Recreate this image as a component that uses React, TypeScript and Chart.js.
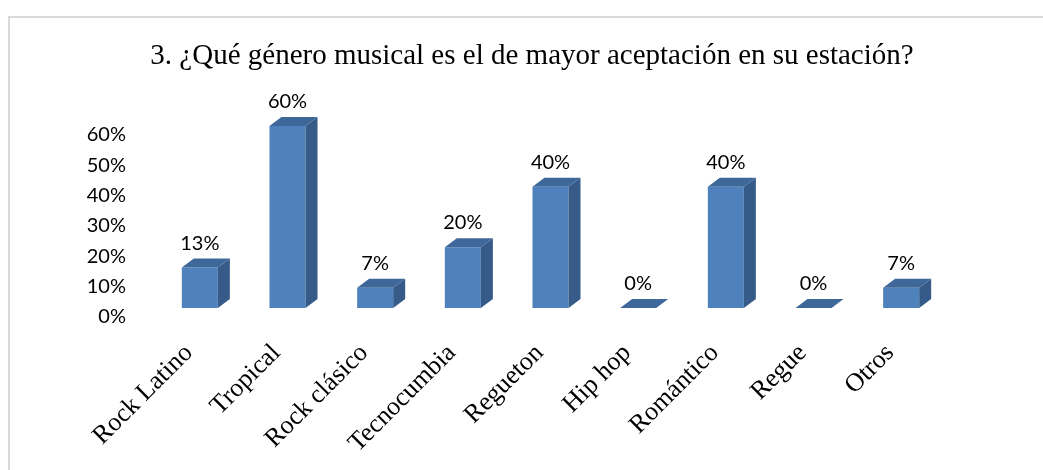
import React, { useEffect, useRef } from "react";
import { Chart, registerables } from "chart.js";

Chart.register(...registerables);

const TITLE = "3. ¿Qué género musical es el de mayor aceptación en su estación?";
const categories = ["Rock Latino", "Tropical", "Rock clásico", "Tecnocumbia", "Regueton", "Hip hop", "Romántico", "Regue", "Otros"];
const values = [0.1333, 0.6, 0.0667, 0.2, 0.4, 0, 0.4, 0, 0.0667];
const valueLabels = ["13%", "60%", "7%", "20%", "40%", "0%", "40%", "0%", "7%"];
const yTickMax = 0.6;
const yTickStep = 0.1;

const FRONT = "#4f81bd";
const SIDE = "#365b88";
const TOP = "#3f689a";
const DEPTH_X = 12;
const DEPTH_Y = 9;

const framePlugin = {
  id: "frame",
  beforeDraw(chart: any) {
    const ctx = chart.ctx;
    ctx.save();
    ctx.fillStyle = "#ffffff";
    ctx.fillRect(0, 0, chart.width, chart.height);
    ctx.strokeStyle = "#d9d9d9";
    ctx.lineWidth = 2;
    ctx.strokeRect(9, 17, chart.width + 20, chart.height + 20);
    ctx.restore();
  },
};

const titlePlugin = {
  id: "customTitle",
  afterDraw(chart: any) {
    const ctx = chart.ctx;
    ctx.save();
    ctx.font = '29px "Liberation Serif", "Times New Roman", serif';
    ctx.fillStyle = "#000000";
    ctx.textAlign = "center";
    ctx.textBaseline = "alphabetic";
    ctx.fillText(TITLE, 532, 64);
    ctx.restore();
  },
};

const bar3dPlugin = {
  id: "bar3d",
  afterDatasetsDraw(chart: any) {
    const ctx = chart.ctx;
    const meta = chart.getDatasetMeta(0);
    ctx.save();
    meta.data.forEach((bar: any, i: number) => {
      const { x, y, base, width } = bar.getProps(["x", "y", "base", "width"], true);
      const left = x - width / 2;
      const right = x + width / 2;
      ctx.fillStyle = SIDE;
      ctx.beginPath();
      ctx.moveTo(right, y);
      ctx.lineTo(right + DEPTH_X, y - DEPTH_Y);
      ctx.lineTo(right + DEPTH_X, base - DEPTH_Y);
      ctx.lineTo(right, base);
      ctx.closePath();
      ctx.fill();
      ctx.fillStyle = TOP;
      ctx.beginPath();
      ctx.moveTo(left, y);
      ctx.lineTo(left + DEPTH_X, y - DEPTH_Y);
      ctx.lineTo(right + DEPTH_X, y - DEPTH_Y);
      ctx.lineTo(right, y);
      ctx.closePath();
      ctx.fill();
      ctx.fillStyle = "#000000";
      ctx.font = '20px Lato, "Noto Sans", sans-serif';
      ctx.textAlign = "center";
      ctx.textBaseline = "alphabetic";
      ctx.fillText(valueLabels[i], x, y - 18);
    });
    ctx.restore();
  },
};

export default function App() {
  const ref = useRef<HTMLCanvasElement | null>(null);

  useEffect(() => {
    if (!ref.current) return;
    const chart = new Chart(ref.current, {
      type: "bar",
      data: {
        labels: categories,
        datasets: [
          {
            data: values,
            backgroundColor: FRONT,
            borderWidth: 0,
            categoryPercentage: 1,
            barPercentage: 0.411,
          },
        ],
      },
      options: {
        responsive: false,
        animation: false,
        layout: { padding: { top: 126, right: 98, bottom: 0, left: 0 } },
        plugins: {
          legend: { display: false },
          title: { display: false },
          tooltip: { enabled: false },
        },
        scales: {
          x: {
            grid: { display: false, drawTicks: false },
            border: { display: false },
            ticks: {
              autoSkip: false,
              maxRotation: 45,
              minRotation: 45,
              padding: 30,
              labelOffset: -11,
              color: "#000000",
              font: { family: '"Liberation Serif", "Times New Roman", serif', size: 26 },
            },
            afterFit(scale: any) {
              scale.height = 162;
            },
          },
          y: {
            min: 0,
            max: yTickMax,
            grid: { display: false, drawTicks: false },
            border: { display: false },
            ticks: {
              stepSize: yTickStep,
              padding: 30,
              labelOffset: 9,
              color: "#000000",
              font: { family: 'Lato, "Noto Sans", sans-serif', size: 20 },
              callback: (v: any) => Math.round(Number(v) * 100) + "%",
            },
            afterFit(scale: any) {
              scale.width = 156;
            },
          },
        },
      },
      plugins: [framePlugin, bar3dPlugin, titlePlugin],
    });
    return () => chart.destroy();
  }, []);

  return (
    <div style={{ position: "absolute", left: 0, top: 0, width: 1043, height: 470 }}>
      <canvas ref={ref} width={1043} height={470} style={{ display: "block" }} />
    </div>
  );
}
